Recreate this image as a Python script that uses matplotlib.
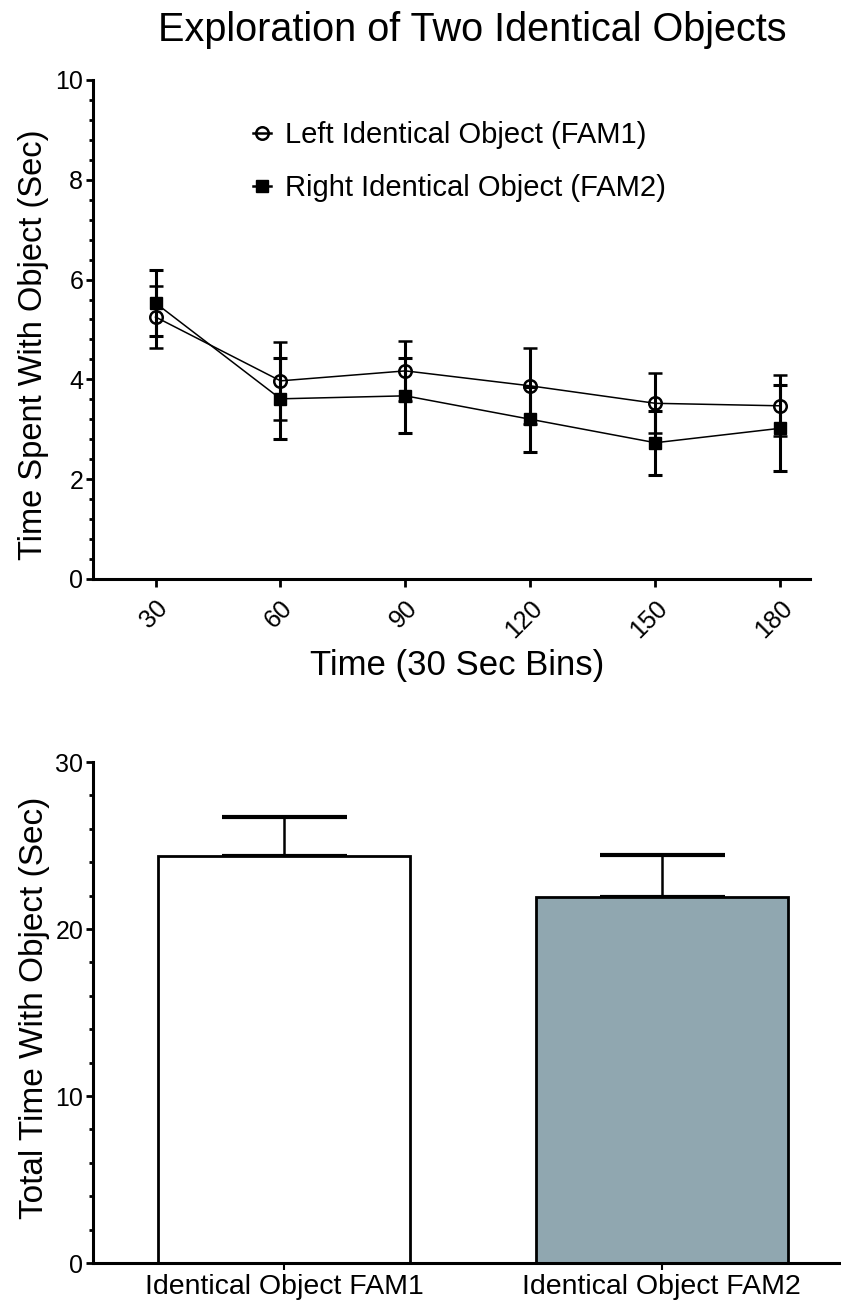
import numpy as np
import matplotlib
matplotlib.use('Agg')
import matplotlib.pyplot as plt
from matplotlib.ticker import MultipleLocator
from matplotlib.lines import Line2D

plt.rcParams['font.family'] = ['Liberation Sans', 'DejaVu Sans']

# time course data
bins = [30, 60, 90, 120, 150, 180]
fam1_mean = [5.25, 3.97, 4.17, 3.87, 3.52, 3.47]
fam1_sem = [0.63, 0.78, 0.60, 0.76, 0.60, 0.61]
fam2_mean = [5.53, 3.61, 3.67, 3.20, 2.73, 3.02]
fam2_sem = [0.67, 0.81, 0.75, 0.65, 0.64, 0.86]

# totals
groups = ['Identical Object FAM1', 'Identical Object FAM2']
total_mean = [24.4, 21.9]
total_sem = [2.3, 2.55]
bar_colors = ['white', '#90a7b0']

fig = plt.figure(figsize=(8.41, 13.04), dpi=100)

# top panel
ax1 = fig.add_axes([0.1106, 0.556, 0.852, 0.3827])
ax1.errorbar(bins, fam1_mean, yerr=fam1_sem, color='black', lw=1.1,
             marker='o', ms=9, mfc='none', mew=1.8, elinewidth=2.2,
             capsize=5, capthick=2.2, zorder=3)
ax1.errorbar(bins, fam2_mean, yerr=fam2_sem, color='black', lw=1.1,
             marker='s', ms=8, mfc='black', elinewidth=2.2,
             capsize=5, capthick=2.2, zorder=3)
ax1.set_xlim(15, 187)
ax1.set_ylim(0, 10)
ax1.set_xticks(bins)
ax1.set_xticklabels([str(b) for b in bins], rotation=45, ha='right',
                    rotation_mode='anchor', fontsize=18)
ax1.yaxis.set_major_locator(MultipleLocator(2))
ax1.yaxis.set_minor_locator(MultipleLocator(0.4))
ax1.tick_params(axis='y', labelsize=18, width=2, length=5, pad=2)
ax1.tick_params(axis='y', which='minor', width=2, length=3)
ax1.tick_params(axis='x', width=2, length=6, pad=6)
ax1.set_ylabel('Time Spent With Object (Sec)', fontsize=23.5)
ax1.yaxis.set_label_coords(-0.062, 0.47)
ax1.set_xlabel('Time (30 Sec Bins)', fontsize=25)
ax1.xaxis.set_label_coords(0.508, -0.14)
for s in ['top', 'right']:
    ax1.spines[s].set_visible(False)
for s in ['left', 'bottom']:
    ax1.spines[s].set_linewidth(2.2)

handles = [Line2D([], [], color='black', lw=1.8, marker='o', ms=9, mfc='none', mew=1.8),
           Line2D([], [], color='black', lw=1.8, marker='s', ms=8, mfc='black')]
ax1.legend(handles, ['Left Identical Object (FAM1)', 'Right Identical Object (FAM2)'],
           loc='upper left', bbox_to_anchor=(0.207, 0.941), frameon=False,
           fontsize=21, handlelength=0.6, handletextpad=0.5,
           labelspacing=0.85, borderaxespad=0)

fig.text(0.561, 0.977, 'Exploration of Two Identical Objects', fontsize=28.5,
         ha='center', va='center')

# bottom panel
ax2 = fig.add_axes([0.1106, 0.0314, 0.8894, 0.3842])
x = np.arange(len(groups))
ax2.bar(x, total_mean, width=0.667, color=bar_colors, edgecolor='black',
        linewidth=2.0, zorder=2)
ax2.errorbar(x, total_mean, yerr=[[0, 0], total_sem], fmt='none', ecolor='black',
             elinewidth=1.8, capsize=45, capthick=3, zorder=1)
ax2.set_xlim(-0.505, 1.474)
ax2.set_ylim(0, 30)
ax2.set_xticks(x)
ax2.set_xticklabels(groups, fontsize=20.5)
ax2.yaxis.set_major_locator(MultipleLocator(10))
ax2.yaxis.set_minor_locator(MultipleLocator(2))
ax2.tick_params(axis='y', labelsize=18, width=2, length=5, pad=2)
ax2.tick_params(axis='y', which='minor', width=2, length=3)
ax2.tick_params(axis='x', width=1.5, length=5, pad=3)
ax2.set_ylabel('Total Time With Object (Sec)', fontsize=24)
ax2.yaxis.set_label_coords(-0.057, 0.51)
for s in ['top', 'right']:
    ax2.spines[s].set_visible(False)
for s in ['left', 'bottom']:
    ax2.spines[s].set_linewidth(2.2)

fig.savefig('out.png', dpi=100)
